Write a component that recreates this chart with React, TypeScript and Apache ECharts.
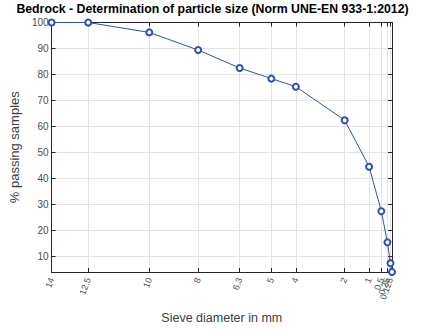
import React, { useEffect, useRef } from "react";
import * as echarts from "echarts";

const sieveSizes = [14, 12.5, 10, 8, 6.3, 5, 4, 2, 1, 0.5, 0.25, 0.125, 0.063];
const passing = [100, 100, 96.2, 89.4, 82.5, 78.4, 75.3, 62.4, 44.5, 27.4, 15.4, 7.4, 4];
const yTicks = [10, 20, 30, 40, 50, 60, 70, 80, 90, 100];
const xTickLabels = ["14", "12.5", "10", "8", "6.3", "5", "4", "2", "1", "0.5", "0.25", "0.125", "0.063"];

const titleText = "Bedrock - Determination of particle size (Norm UNE-EN 933-1:2012)";
const xName = "Sieve diameter in mm";
const yName = "% passing samples";

export default function App() {
  const ref = useRef<HTMLDivElement>(null);
  useEffect(() => {
    if (!ref.current) return;
    const chart = echarts.init(ref.current, undefined, { renderer: "svg" });
    const font = "Liberation Sans, Arial, Helvetica, sans-serif";
    const axisColor = "#262626";
    const gridColor = "#e3e3e3";
    const labelMap: Record<string, string> = {};
    sieveSizes.forEach((v, i) => (labelMap[String(v)] = xTickLabels[i]));
    const xMin = sieveSizes[sieveSizes.length - 1];
    const xMax = sieveSizes[0];
    const yMin = passing[passing.length - 1];
    chart.setOption({
      animation: false,
      title: {
        text: titleText,
        left: "center",
        top: 3,
        padding: [0, 0, 0, 12],
        textStyle: { fontFamily: font, fontSize: 12.3, fontWeight: "bold", color: "#000" },
      },
      grid: { left: 49, right: 33, top: 22.5, bottom: 47, containLabel: false },
      xAxis: [
        {
          type: "value",
          inverse: true,
          min: xMin,
          max: xMax,
          name: xName,
          nameLocation: "middle",
          nameGap: 39,
          nameTextStyle: { fontFamily: font, fontSize: 12.5, color: "#404040" },
          axisLine: { show: true, lineStyle: { color: axisColor, width: 1 } },
          axisTick: { show: true, inside: true, length: 4, customValues: sieveSizes, lineStyle: { color: axisColor } },
          axisLabel: {
            customValues: sieveSizes,
            rotate: 70,
            margin: 6,
            fontFamily: font,
            fontSize: 9,
            color: "#4d4d4d",
            formatter: (v: number) => labelMap[String(v)] ?? String(v),
          },
          splitLine: { show: true, lineStyle: { color: gridColor, width: 1 } },
        },
        {
          type: "value",
          inverse: true,
          position: "top",
          min: xMin,
          max: xMax,
          axisLine: { show: true, onZero: false, lineStyle: { color: axisColor, width: 1 } },
          axisTick: { show: true, inside: true, length: 4, customValues: sieveSizes, lineStyle: { color: axisColor } },
          axisLabel: { show: false },
          splitLine: { show: false },
        },
      ],
      yAxis: [
        {
          type: "value",
          min: yMin,
          max: 100,
          name: yName,
          nameLocation: "middle",
          nameGap: 18,
          nameTextStyle: { fontFamily: font, fontSize: 13, color: "#404040" },
          axisLine: { show: true, lineStyle: { color: axisColor, width: 1 } },
          axisTick: { show: true, inside: true, length: 4, customValues: yTicks, lineStyle: { color: axisColor } },
          axisLabel: { customValues: yTicks, fontFamily: font, fontSize: 10, color: "#4d4d4d", margin: 3 },
          splitLine: { show: true, lineStyle: { color: gridColor, width: 1 } },
        },
        {
          type: "value",
          position: "right",
          min: yMin,
          max: 100,
          axisLine: { show: true, onZero: false, lineStyle: { color: axisColor, width: 1 } },
          axisTick: { show: true, inside: true, length: 4, customValues: yTicks, lineStyle: { color: axisColor } },
          axisLabel: { show: false },
          splitLine: { show: false },
        },
      ],
      series: [
        {
          type: "line",
          xAxisIndex: 0,
          yAxisIndex: 0,
          data: sieveSizes.map((s, i) => [s, passing[i]]),
          symbol: "emptyCircle",
          symbolSize: 6,
          lineStyle: { color: "#2f50b0", width: 1 },
          itemStyle: { color: "#2f50b0", borderWidth: 1.3 },
          clip: false,
        },
      ],
    });
    return () => chart.dispose();
  }, []);
  return <div ref={ref} style={{ width: 425, height: 329, position: "absolute", left: 0, top: 0, background: "#fff" }} />;
}
